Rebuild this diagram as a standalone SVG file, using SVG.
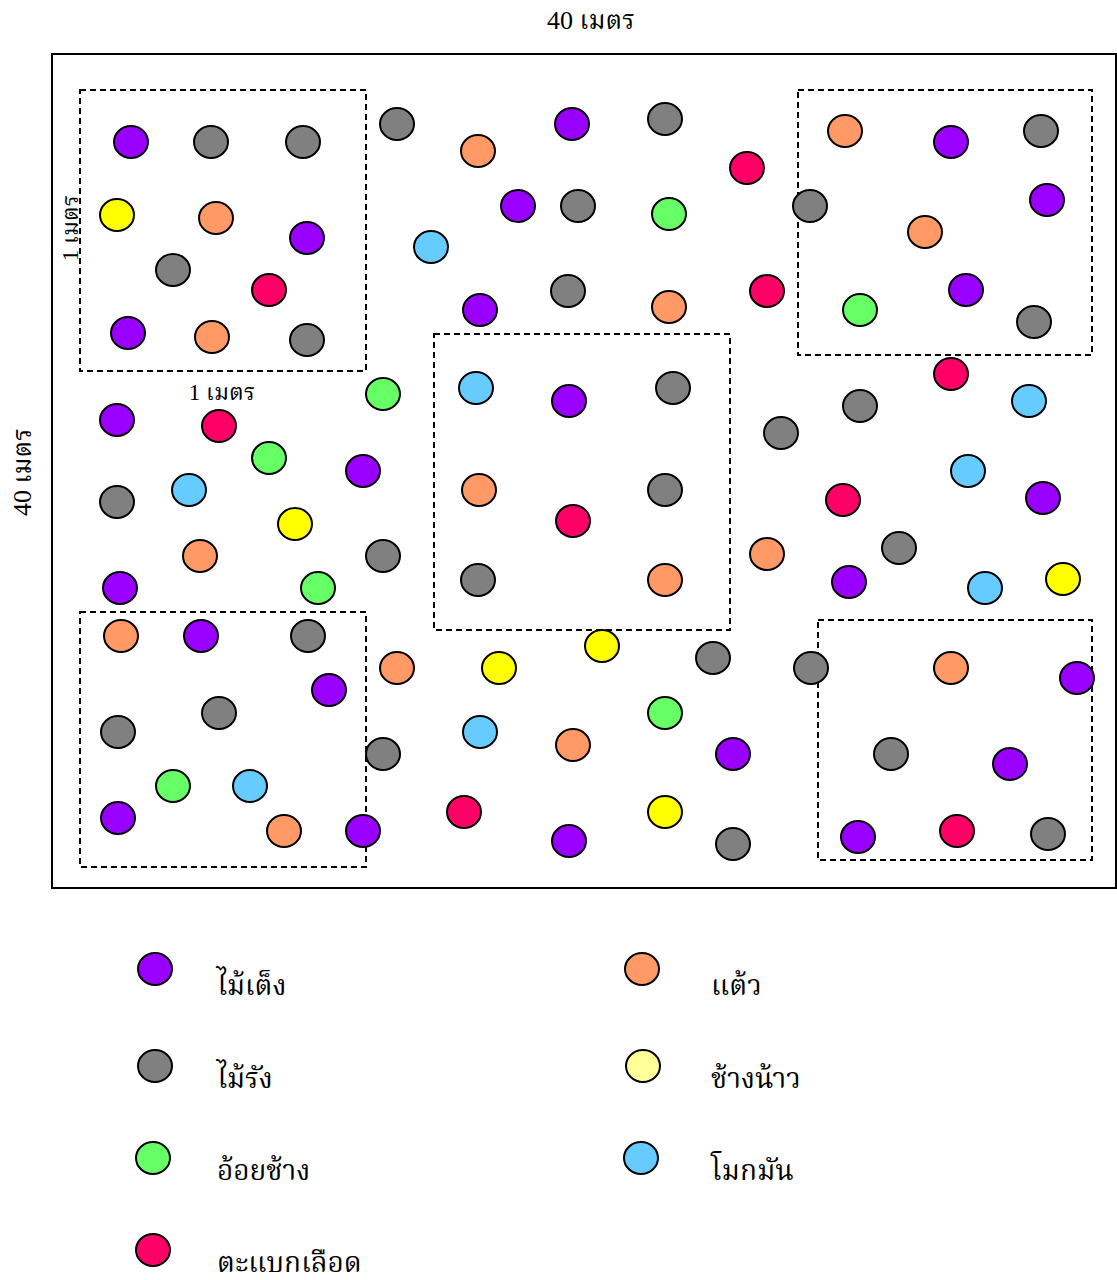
<svg xmlns="http://www.w3.org/2000/svg" width="1117" height="1280" viewBox="0 0 1117 1280">
<style>
text{font-family:"Liberation Serif","Noto Serif Thai","Noto Sans Thai","DejaVu Serif",serif;fill:#000}
.lbl{font-size:26px}
.sm{font-size:23px}
.leg{font-size:28px}
ellipse{stroke:#000;stroke-width:2}
.P{fill:#9900ff}.G{fill:#808080}.O{fill:#ff9966}.Y{fill:#ffff00}.R{fill:#ff0066}.Gr{fill:#66ff66}.B{fill:#66ccff}.LY{fill:#ffff99}
.box{fill:none;stroke:#000;stroke-width:2;stroke-dasharray:6,4}
</style>
<rect width="1117" height="1280" fill="#fff"/>
<rect x="52" y="54" width="1064" height="834" fill="none" stroke="#000" stroke-width="2"/>
<g id="quadrats">
<rect class="box" x="80" y="90" width="286" height="281"/>
<rect class="box" x="798" y="90" width="294" height="265"/>
<rect class="box" x="434" y="334" width="296" height="296"/>
<rect class="box" x="80" y="612" width="286" height="255"/>
<rect class="box" x="818" y="620" width="274" height="240"/>
</g>
<g id="labels">
<text class="lbl" x="591" y="29" text-anchor="middle">40 เมตร</text>
<text class="lbl" x="0" y="0" text-anchor="middle" transform="translate(31,472) rotate(-90)">40 เมตร</text>
<text class="sm" x="222" y="400" text-anchor="middle">1 เมตร</text>
<text class="sm" x="0" y="0" text-anchor="middle" transform="translate(78,228) rotate(-90)">1 เมตร</text>
</g>
<g id="trees">
<g id="box1">
<ellipse class="P" cx="131" cy="142" rx="17" ry="16"/>
<ellipse class="G" cx="211" cy="142" rx="17" ry="16"/>
<ellipse class="G" cx="303" cy="142" rx="17" ry="16"/>
<ellipse class="Y" cx="117" cy="215" rx="17" ry="16"/>
<ellipse class="O" cx="216" cy="218" rx="17" ry="16"/>
<ellipse class="P" cx="307" cy="238" rx="17" ry="16"/>
<ellipse class="G" cx="173" cy="270" rx="17" ry="16"/>
<ellipse class="R" cx="269" cy="290" rx="17" ry="16"/>
<ellipse class="P" cx="128" cy="333" rx="17" ry="16"/>
<ellipse class="O" cx="212" cy="337" rx="17" ry="16"/>
<ellipse class="G" cx="307" cy="340" rx="17" ry="16"/>
</g>
<g id="topmid">
<ellipse class="G" cx="397" cy="124" rx="17" ry="16"/>
<ellipse class="O" cx="478" cy="151" rx="17" ry="16"/>
<ellipse class="P" cx="572" cy="124" rx="17" ry="16"/>
<ellipse class="G" cx="665" cy="119" rx="17" ry="16"/>
<ellipse class="R" cx="747" cy="168" rx="17" ry="16"/>
<ellipse class="P" cx="518" cy="206" rx="17" ry="16"/>
<ellipse class="G" cx="578" cy="206" rx="17" ry="16"/>
<ellipse class="Gr" cx="669" cy="214" rx="17" ry="16"/>
<ellipse class="G" cx="810" cy="206" rx="17" ry="16"/>
<ellipse class="B" cx="431" cy="247" rx="17" ry="16"/>
<ellipse class="P" cx="480" cy="310" rx="17" ry="16"/>
<ellipse class="G" cx="568" cy="291" rx="17" ry="16"/>
<ellipse class="O" cx="669" cy="307" rx="17" ry="16"/>
<ellipse class="R" cx="767" cy="291" rx="17" ry="16"/>
</g>
<g id="box2">
<ellipse class="O" cx="845" cy="131" rx="17" ry="16"/>
<ellipse class="P" cx="951" cy="142" rx="17" ry="16"/>
<ellipse class="G" cx="1041" cy="131" rx="17" ry="16"/>
<ellipse class="P" cx="1047" cy="200" rx="17" ry="16"/>
<ellipse class="O" cx="925" cy="232" rx="17" ry="16"/>
<ellipse class="Gr" cx="860" cy="310" rx="17" ry="16"/>
<ellipse class="P" cx="966" cy="290" rx="17" ry="16"/>
<ellipse class="G" cx="1034" cy="322" rx="17" ry="16"/>
</g>
<g id="leftmid">
<ellipse class="P" cx="117" cy="420" rx="17" ry="16"/>
<ellipse class="R" cx="219" cy="426" rx="17" ry="16"/>
<ellipse class="Gr" cx="383" cy="394" rx="17" ry="16"/>
<ellipse class="Gr" cx="269" cy="458" rx="17" ry="16"/>
<ellipse class="P" cx="363" cy="471" rx="17" ry="16"/>
<ellipse class="G" cx="117" cy="502" rx="17" ry="16"/>
<ellipse class="B" cx="189" cy="490" rx="17" ry="16"/>
<ellipse class="Y" cx="295" cy="524" rx="17" ry="16"/>
<ellipse class="O" cx="200" cy="556" rx="17" ry="16"/>
<ellipse class="G" cx="383" cy="556" rx="17" ry="16"/>
<ellipse class="P" cx="120" cy="588" rx="17" ry="16"/>
<ellipse class="Gr" cx="318" cy="588" rx="17" ry="16"/>
</g>
<g id="box3">
<ellipse class="B" cx="476" cy="388" rx="17" ry="16"/>
<ellipse class="P" cx="569" cy="401" rx="17" ry="16"/>
<ellipse class="G" cx="673" cy="388" rx="17" ry="16"/>
<ellipse class="O" cx="479" cy="490" rx="17" ry="16"/>
<ellipse class="G" cx="665" cy="490" rx="17" ry="16"/>
<ellipse class="R" cx="573" cy="521" rx="17" ry="16"/>
<ellipse class="G" cx="478" cy="580" rx="17" ry="16"/>
<ellipse class="O" cx="665" cy="580" rx="17" ry="16"/>
</g>
<g id="rightmid">
<ellipse class="R" cx="951" cy="374" rx="17" ry="16"/>
<ellipse class="G" cx="860" cy="406" rx="17" ry="16"/>
<ellipse class="B" cx="1029" cy="401" rx="17" ry="16"/>
<ellipse class="G" cx="781" cy="433" rx="17" ry="16"/>
<ellipse class="B" cx="968" cy="471" rx="17" ry="16"/>
<ellipse class="R" cx="843" cy="500" rx="17" ry="16"/>
<ellipse class="P" cx="1043" cy="498" rx="17" ry="16"/>
<ellipse class="G" cx="899" cy="548" rx="17" ry="16"/>
<ellipse class="O" cx="767" cy="554" rx="17" ry="16"/>
<ellipse class="P" cx="849" cy="582" rx="17" ry="16"/>
<ellipse class="B" cx="985" cy="588" rx="17" ry="16"/>
<ellipse class="Y" cx="1063" cy="579" rx="17" ry="16"/>
</g>
<g id="box4">
<ellipse class="O" cx="121" cy="636" rx="17" ry="16"/>
<ellipse class="P" cx="201" cy="636" rx="17" ry="16"/>
<ellipse class="G" cx="308" cy="636" rx="17" ry="16"/>
<ellipse class="P" cx="329" cy="690" rx="17" ry="16"/>
<ellipse class="G" cx="219" cy="713" rx="17" ry="16"/>
<ellipse class="G" cx="118" cy="732" rx="17" ry="16"/>
<ellipse class="Gr" cx="173" cy="786" rx="17" ry="16"/>
<ellipse class="B" cx="250" cy="786" rx="17" ry="16"/>
<ellipse class="P" cx="118" cy="818" rx="17" ry="16"/>
<ellipse class="O" cx="284" cy="831" rx="17" ry="16"/>
<ellipse class="P" cx="363" cy="831" rx="17" ry="16"/>
</g>
<g id="botmid">
<ellipse class="O" cx="397" cy="668" rx="17" ry="16"/>
<ellipse class="Y" cx="499" cy="668" rx="17" ry="16"/>
<ellipse class="Y" cx="602" cy="646" rx="17" ry="16"/>
<ellipse class="G" cx="713" cy="658" rx="17" ry="16"/>
<ellipse class="G" cx="811" cy="668" rx="17" ry="16"/>
<ellipse class="Gr" cx="665" cy="713" rx="17" ry="16"/>
<ellipse class="B" cx="480" cy="732" rx="17" ry="16"/>
<ellipse class="G" cx="383" cy="754" rx="17" ry="16"/>
<ellipse class="O" cx="573" cy="745" rx="17" ry="16"/>
<ellipse class="P" cx="733" cy="754" rx="17" ry="16"/>
<ellipse class="R" cx="464" cy="812" rx="17" ry="16"/>
<ellipse class="Y" cx="665" cy="812" rx="17" ry="16"/>
<ellipse class="P" cx="569" cy="841" rx="17" ry="16"/>
<ellipse class="G" cx="733" cy="844" rx="17" ry="16"/>
</g>
<g id="box5">
<ellipse class="O" cx="951" cy="668" rx="17" ry="16"/>
<ellipse class="P" cx="1077" cy="678" rx="17" ry="16"/>
<ellipse class="G" cx="891" cy="754" rx="17" ry="16"/>
<ellipse class="P" cx="1010" cy="764" rx="17" ry="16"/>
<ellipse class="P" cx="858" cy="837" rx="17" ry="16"/>
<ellipse class="R" cx="957" cy="831" rx="17" ry="16"/>
<ellipse class="G" cx="1048" cy="834" rx="17" ry="16"/>
</g>
</g>
<g id="legend">
<g id="leg-teng"><ellipse class="P" cx="155" cy="969" rx="17" ry="16"/><text class="leg" x="217" y="995">ไม้เต็ง</text></g>
<g id="leg-rang"><ellipse class="G" cx="155" cy="1066" rx="17" ry="16"/><text class="leg" x="217" y="1088">ไม้รัง</text></g>
<g id="leg-oichang"><ellipse class="Gr" cx="153" cy="1158" rx="17" ry="16"/><text class="leg" x="217" y="1180">อ้อยช้าง</text></g>
<g id="leg-tabaek"><ellipse class="R" cx="153" cy="1250" rx="17" ry="16"/><text class="leg" x="217" y="1272">ตะแบกเลือด</text></g>
<g id="leg-taew"><ellipse class="O" cx="642" cy="969" rx="17" ry="16"/><text class="leg" x="711" y="995">แต้ว</text></g>
<g id="leg-changnao"><ellipse class="LY" cx="643" cy="1066" rx="17" ry="16"/><text class="leg" x="711" y="1088">ช้างน้าว</text></g>
<g id="leg-mokman"><ellipse class="B" cx="641" cy="1158" rx="17" ry="16"/><text class="leg" x="711" y="1180">โมกมัน</text></g>
</g>
</svg>
